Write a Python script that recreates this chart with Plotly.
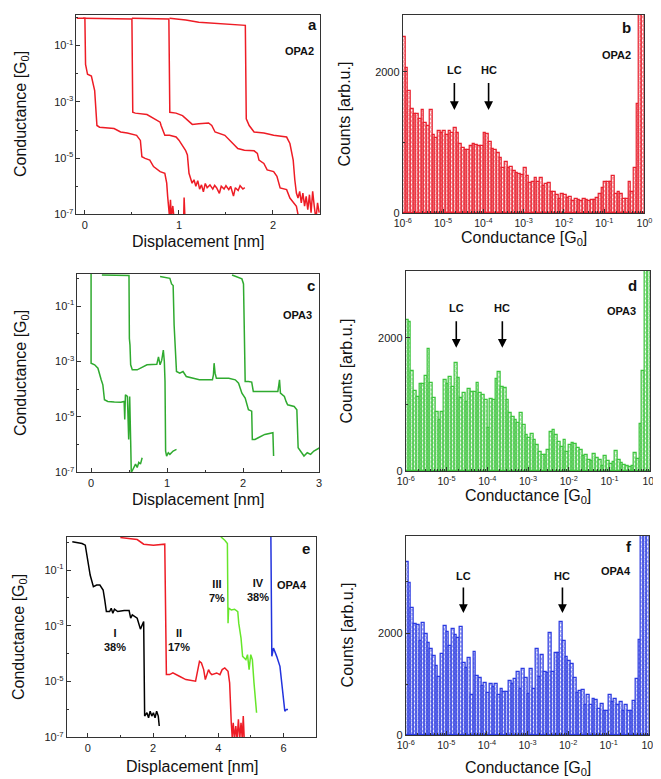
import math
import plotly.graph_objects as go

W, H = 661, 779
FONT = "Liberation Sans, Arial, sans-serif"

# ---------------- Panel a (OPA2 traces): displacement [nm], log10(G/G0) -------------
a1_x = [-0.09, 0.0, 0.007, 0.028, 0.069, 0.104, 0.128, 0.156, 0.31, 0.38, 0.45, 0.55, 0.59, 0.606,
        0.64, 0.69, 0.73, 0.8, 0.85, 0.87, 0.88, 0.89, 0.9, 0.91, 0.92, 0.935, 0.95, 1.05, 1.055, 1.065]
a1_lg = [-0.03, -0.03, -1.67, -2.02, -2.08, -2.6, -3.84, -3.9, -3.95, -4.07, -4.11, -4.19, -4.37, -4.95,
         -5.01, -5.07, -5.3, -5.48, -5.54, -5.89, -6.36, -6.7, -7.1, -6.48, -7.1, -6.7, -7.2, -7.2, -6.4, -7.2]
a2_x = [-0.02, 0.5, 0.509, 0.536, 0.66, 0.76, 0.8, 0.81, 0.83, 0.85, 0.9, 0.97, 1.0, 1.04, 1.07, 1.09,
        1.107, 1.14, 1.16, 1.18, 1.2, 1.22, 1.24, 1.26, 1.28, 1.3, 1.33, 1.36, 1.38, 1.4, 1.43, 1.45,
        1.48, 1.5, 1.53, 1.55, 1.58, 1.6, 1.63, 1.65, 1.68, 1.7]
a2_lg = [-0.03, -0.05, -3.37, -3.4, -3.45, -3.66, -3.72, -3.84, -4.01, -4.19, -4.19, -4.25, -4.36, -4.54,
         -4.72, -4.89, -5.54, -5.89, -5.77, -6.0, -5.8, -6.1, -5.95, -6.2, -5.9, -6.05, -5.95, -6.1,
         -5.97, -6.05, -6.25, -6.0, -6.1, -5.98, -6.12, -6.0, -6.35, -6.05, -6.15, -5.98, -6.1, -6.05]
a3_x = [0.5, 0.893, 0.903, 0.969, 1.038, 1.107, 1.142, 1.211, 1.315, 1.349, 1.384, 1.488, 1.557, 1.626,
        1.696, 1.799, 1.834, 1.851, 1.903, 1.938, 2.007, 2.042, 2.076, 2.145, 2.18, 2.215, 2.249, 2.266, 2.284]
a3_lg = [-0.03, -0.05, -3.37, -3.4, -3.49, -3.72, -3.8, -3.78, -3.75, -3.84, -4.07, -4.19, -4.42, -4.66,
         -4.72, -4.74, -4.83, -5.07, -5.19, -5.42, -5.48, -5.65, -6.06, -6.12, -6.42, -6.59, -6.71, -7.0, -7.3]
a4_x = [0.9, 1.073, 1.211, 1.349, 1.522, 1.706, 1.716, 1.747, 1.799, 1.903, 2.007, 2.145, 2.18, 2.215,
        2.232, 2.249, 2.266, 2.284, 2.301, 2.318, 2.336, 2.353, 2.37, 2.388, 2.405, 2.422, 2.439, 2.457,
        2.474, 2.491]
a4_lg = [-0.03, -0.09, -0.17, -0.2, -0.26, -0.28, -3.6, -3.84, -4.07, -4.11, -4.19, -4.25, -4.48, -5.07,
         -5.77, -6.24, -6.42, -6.18, -6.59, -6.24, -6.71, -6.36, -6.83, -6.3, -6.94, -6.18, -6.71, -7.18,
         -6.59, -6.94]

# ---------------- Panel c (OPA3 traces) ----------------
c1_x = [0.0, 0.0, 0.047, 0.09, 0.133, 0.155, 0.176, 0.22, 0.306, 0.392, 0.435, 0.443, 0.452, 0.478,
        0.495, 0.508, 0.521, 0.529, 0.542, 0.564, 0.585, 0.607, 0.628, 0.65, 0.672]
c1_lg = [0.22, -3.06, -3.12, -3.24, -3.66, -3.84, -4.38, -4.44, -4.46, -4.47, -4.44, -5.09, -4.2, -4.26,
         -5.81, -4.26, -5.87, -7.0, -6.94, -6.82, -6.7, -6.82, -6.64, -6.7, -6.47]
c2_x = [0.142, 0.499, 0.504, 0.512, 0.521, 0.542, 0.607, 0.736, 0.865, 0.887, 0.908, 0.93, 0.951, 0.964,
        0.973, 0.981, 0.994, 1.016, 1.037, 1.08, 1.124]
c2_lg = [0.12, 0.1, -2.17, -2.41, -3.12, -3.3, -3.3, -3.12, -3.1, -2.83, -3.12, -2.95, -2.59, -3.0,
         -3.72, -6.23, -6.41, -6.29, -6.35, -6.23, -6.17]
c3_x = [0.908, 1.037, 1.059, 1.08, 1.093, 1.106, 1.115, 1.124, 1.167, 1.21, 1.253, 1.339, 1.425, 1.597,
        1.61, 1.619, 1.632, 1.649, 1.812, 1.898, 1.941, 1.985, 2.028, 2.071, 2.114, 2.122, 2.157, 2.2,
        2.286, 2.393, 2.402]
c3_lg = [0.07, 0.0, -0.2, -0.26, -1.69, -2.53, -3.12, -3.36, -3.42, -3.36, -3.54, -3.6, -3.66, -3.66,
         -3.48, -3.06, -3.42, -3.6, -3.6, -3.66, -3.78, -4.14, -4.32, -4.74, -4.79, -5.81, -5.81, -5.75,
         -5.63, -5.57, -6.41]
c4_x = [1.855, 1.985, 2.006, 2.019, 2.028, 2.071, 2.114, 2.135, 2.286, 2.458, 2.471, 2.48, 2.492, 2.523,
        2.544, 2.566, 2.587, 2.673, 2.708, 2.725, 2.76, 2.802, 2.845, 2.889, 2.932, 2.975, 3.009]
c4_lg = [0.12, -0.02, -0.2, -1.93, -3.72, -3.72, -3.74, -4.08, -4.08, -4.08, -3.84, -3.66, -4.14, -4.2,
         -4.26, -4.44, -4.56, -4.62, -4.74, -6.11, -6.23, -6.41, -6.29, -6.35, -6.23, -6.17, -6.11]

# ---------------- Panel e (OPA4 traces, classes I-IV) ----------------
e1_x = [-0.478, -0.279, -0.179, -0.08, -0.03, 0.07, 0.169, 0.269, 0.368, 0.468, 0.517, 0.567, 0.667,
        0.716, 0.766, 0.816, 0.915, 1.114, 1.264, 1.313, 1.363, 1.512, 1.612, 1.692, 1.711, 1.741, 1.811,
        1.861, 1.91, 1.96, 2.01, 2.06, 2.109, 2.159, 2.189]
e1_lg = [0.012, -0.012, -0.048, -0.107, -0.524, -1.179, -1.595, -1.536, -1.536, -1.714, -2.071, -2.488,
         -2.488, -2.369, -2.548, -2.405, -2.488, -2.452, -2.452, -2.726, -2.607, -2.726, -3.119, -2.905,
         -2.845, -6.238, -6.119, -6.298, -6.06, -6.238, -6.119, -6.298, -6.06, -6.238, -6.595]
e2_x = [0.995, 1.313, 1.512, 1.711, 2.01, 2.358, 2.388, 2.408, 2.507, 2.607, 2.806, 3.005, 3.303, 3.353,
        3.423, 3.483, 3.552, 3.602, 3.701, 3.751, 3.801, 3.95, 4.05, 4.119, 4.199, 4.299, 4.348, 4.398,
        4.428, 4.458, 4.498, 4.537, 4.577, 4.617, 4.657, 4.697, 4.736, 4.766, 4.796]
e2_lg = [0.167, 0.131, 0.095, -0.071, -0.107, -0.071, -2.905, -4.75, -4.75, -4.69, -4.81, -4.929, -4.988,
         -4.631, -4.274, -4.333, -4.571, -4.929, -4.571, -4.69, -4.75, -4.69, -4.75, -4.571, -4.512,
         -4.631, -5.048, -6.476, -7.012, -6.476, -7.071, -6.595, -7.071, -6.357, -7.071, -6.476, -7.071,
         -6.238, -7.071]
e3_x = [4.08, 4.199, 4.279, 4.299, 4.318, 4.398, 4.498, 4.597, 4.627, 4.697, 4.746, 4.796, 4.846, 4.896,
        4.945, 4.995, 5.045, 5.095, 5.144, 5.174]
e3_lg = [0.19, 0.071, -0.048, -2.905, -2.369, -2.429, -2.405, -2.488, -2.905, -3.44, -4.095, -4.155,
         -4.214, -4.036, -4.571, -4.036, -4.214, -5.048, -5.583, -6.119]
e4_x = [5.612, 5.622, 5.642, 5.692, 5.741, 5.791, 5.891, 5.94, 5.99, 6.04, 6.09, 6.139]
e4_lg = [0.31, -1.714, -4.095, -3.798, -3.917, -4.095, -4.452, -4.929, -5.405, -6.06, -6.0, -6.0]

e_labels = ["I<br>38%", "II<br>17%", "III<br>7%", "IV<br>38%"]
e_label_x = [0.82, 2.78, 3.95, 5.21]
e_label_lg = [-3.5, -3.5, -1.75, -1.7]

# ---------------- Histograms: counts per bin, 15 bins/decade from 1e-6 to 1e0 ------------
hist_b = [2490, 2050, 1730, 1480, 1400, 1400, 1330, 1465, 1270, 1230, 1465, 1100, 1060, 1170, 1130,
          1165, 1110, 1165, 1130, 1210, 1140, 980, 920, 895, 900, 950, 980, 960, 945, 945,
          1130, 1120, 1010, 905, 900, 850, 780, 645, 720, 645, 660, 605, 570, 550, 540,
          640, 530, 430, 450, 495, 450, 500, 390, 415, 430, 300, 300, 265, 210, 275,
          255, 220, 230, 170, 205, 185, 170, 205, 185, 170, 195, 185, 220, 275, 360,
          450, 440, 450, 530, 270, 300, 270, 210, 200, 440, 300, 640, 1540, 3000, 3000]
hist_d = [2264, 2239, 1502, 1204, 1119, 1303, 1303, 1433, 1831, 1318, 1104, 886, 771, 886, 1368,
          1303, 1418, 1269, 1617, 1393, 1104, 1169, 1045, 1229, 1184, 1184, 1328, 1169, 1144, 1070,
          647, 1085, 1070, 1383, 1493, 1269, 1254, 1070, 871, 821, 771, 721, 871, 697,
          547, 497, 557, 473, 398, 298, 249, 249, 323, 597, 622, 547, 448, 373, 473, 298, 398, 423,
          408, 350, 323, 224, 249, 174, 149, 259, 200, 174, 75, 224, 149, 109, 139, 313, 174, 124,
          100, 75, 60, 80, 274, 184, 716, 1507, 3100, 3100]
hist_f = [3400, 2990, 2490, 2175, 2160, 1840, 2195, 1990, 1800, 1690, 1550, 1350, 1140, 1590, 2140,
          2030, 1740, 2080, 1970, 1900, 2130, 1420, 1320, 1510, 800, 1640, 1160, 1120, 960, 1030,
          830, 1000, 950, 1000, 800, 900, 840, 850, 1060, 1000, 1100, 1250, 900, 1300,
          1120, 810, 1300, 910, 1690, 1140, 1580, 1250, 1220, 2010, 1250, 1620, 1610, 2210, 1840,
          1530, 1450, 1400, 1120, 830, 860, 880, 600, 800, 600, 720, 700, 520, 620, 470,
          470, 800, 650, 720, 600, 660, 470, 600, 480, 470, 680, 1100, 1860, 4000, 4000, 4000]

hist_ticks = [-6, -5, -4, -3, -2, -1, 0]
hist_ticktext = ["10<sup>%d</sup>" % t for t in hist_ticks]
log_ticks = [1e-7, 1e-5, 1e-3, 1e-1]
log_ticktext = ["10<sup>-7</sup>", "10<sup>-5</sup>", "10<sup>-3</sup>", "10<sup>-1</sup>"]

# LC / HC arrow positions: log10(G), text y, arrow top, arrow bottom (counts)
arrows_b = {"LC": (-4.72, 2020, 1860, 1460), "HC": (-3.87, 2020, 1860, 1460)}
arrows_d = {"LC": (-4.76, 2440, 2270, 1850), "HC": (-3.63, 2440, 2270, 1850)}
arrows_f = {"LC": (-4.58, 3110, 2920, 2390), "HC": (-2.14, 3110, 2920, 2390)}

RED = "#ee1c25"
GREEN_C = "#2faa2f"
BLACK = "#000000"
GREEN_E = "#66e62a"
BLUE = "#2233dd"
HIST_RED = "#e8202e"
HIST_GREEN = "#3cc43c"
HIST_BLUE = "#2a3ae0"


def px_x(p):
    return p / W


def px_y(p):
    return 1 - p / H


# domains (pixels) for each panel: x0, x1, y0(top), y1(bottom)
dom = {
    "a": (61, 311, 7, 208),
    "b": (396, 644, 7, 207),
    "c": (62, 310, 268, 468),
    "d": (399, 650, 265, 467),
    "e": (51, 307, 533, 735),
    "f": (399, 649, 532, 733),
}
axis_ids = {"a": "", "b": "2", "c": "3", "d": "4", "e": "5", "f": "6"}

fig = go.Figure()


def add_line(panel, xs, lgs, color):
    i = axis_ids[panel]
    fig.add_trace(go.Scatter(x=xs, y=[10 ** v for v in lgs], mode="lines",
                             line=dict(color=color, width=1.5),
                             xaxis="x" + i, yaxis="y" + i, showlegend=False, hoverinfo="skip"))


add_line("a", a1_x, a1_lg, RED)
add_line("a", a2_x, a2_lg, RED)
add_line("a", a3_x, a3_lg, RED)
add_line("a", a4_x, a4_lg, RED)
add_line("c", c1_x, c1_lg, GREEN_C)
add_line("c", c2_x, c2_lg, GREEN_C)
add_line("c", c3_x, c3_lg, GREEN_C)
add_line("c", c4_x, c4_lg, GREEN_C)
add_line("e", e1_x, e1_lg, BLACK)
add_line("e", e2_x, e2_lg, RED)
add_line("e", e3_x, e3_lg, GREEN_E)
add_line("e", e4_x, e4_lg, BLUE)

nb = len(hist_b)
bin_w = 6.0 / nb
centers = [-6 + (k + 0.5) * bin_w for k in range(nb)]


def add_hist(panel, counts, color):
    i = axis_ids[panel]
    fig.add_trace(go.Bar(x=centers, y=counts, width=bin_w,
                         marker=dict(color=color, line=dict(color=color, width=1.2),
                                     pattern=dict(shape="x", fgcolor=color, bgcolor="white",
                                                  size=3, solidity=0.6)),
                         xaxis="x" + i, yaxis="y" + i, showlegend=False, hoverinfo="skip"))


add_hist("b", hist_b, HIST_RED)
add_hist("d", hist_d, HIST_GREEN)
add_hist("f", hist_f, HIST_BLUE)

AX = dict(showline=True, linecolor="#333", linewidth=1, mirror=True, ticks="inside", ticklen=4,
          tickcolor="#333", showgrid=False, zeroline=False,
          tickfont=dict(family=FONT, size=11, color="#222"))

layout = dict(width=W, height=H, margin=dict(l=0, r=0, t=0, b=0), paper_bgcolor="white",
              plot_bgcolor="white", bargap=0, barmode="overlay", font=dict(family=FONT))


def set_axes(panel, xcfg, ycfg):
    i = axis_ids[panel]
    x0, x1, yt, yb = dom[panel]
    xa = dict(AX, domain=[px_x(x0), px_x(x1)], anchor="y" + i, **xcfg)
    ya = dict(AX, domain=[px_y(yb), px_y(yt)], anchor="x" + i, **ycfg)
    layout["xaxis" + i] = xa
    layout["yaxis" + i] = ya


def log_y(top):
    return dict(type="log", range=[-7, top], tickvals=log_ticks, ticktext=log_ticktext,
                minor=dict(tickvals=[1e-6, 1e-4, 1e-2, 1], ticks="inside", ticklen=2, tickcolor="#333"))


def lin_x(rng, ticks, minors):
    return dict(range=rng, tickvals=ticks, ticktext=[str(t) for t in ticks],
                minor=dict(tickvals=minors, ticks="inside", ticklen=2, tickcolor="#333"))


hist_minor = [d + math.log10(k) for d in range(-6, 0) for k in range(2, 10)]


def hist_x():
    return dict(range=[-6, 0], tickvals=hist_ticks, ticktext=hist_ticktext,
                tickfont=dict(family=FONT, size=10.5, color="#222"),
                minor=dict(tickvals=hist_minor, ticks="inside", ticklen=2, tickcolor="#333"))


def hist_y(top):
    return dict(range=[0, top], tickvals=[0, 2000], ticktext=["0", "2000"],
                minor=dict(tickvals=[1000, 3000], ticks="inside", ticklen=2, tickcolor="#333"))


set_axes("a", lin_x([-0.09, 2.5], [0, 1, 2], [0.5, 1.5]), log_y(0.09))
set_axes("c", lin_x([-0.18, 3.0], [0, 1, 2, 3], [0.5, 1.5, 2.5]), log_y(0.16))
set_axes("e", lin_x([-0.65, 7.0], [0, 2, 4, 6], [1, 3, 5]), log_y(0.19))
set_axes("b", hist_x(), hist_y(2800))
set_axes("d", hist_x(), hist_y(3000))
set_axes("f", hist_x(), hist_y(3900))

ann = []


def text_px(x, y, s, size, bold=False, angle=0):
    ann.append(dict(x=px_x(x), y=px_y(y), xref="paper", yref="paper", text=("<b>%s</b>" % s) if bold else s,
                    showarrow=False, textangle=angle, xanchor="center", yanchor="middle",
                    font=dict(family=FONT, size=size, color="#111")))


CT = "Conductance [G<sub>0</sub>]"
# axis titles: (y-title x, y-title y, x-title x, x-title y) in pixels
for (yx, yy, xx, xy), ytxt, xtxt in [
    ((4, 107, 186, 235), CT, "Displacement [nm]"),
    ((336, 107, 520, 232), "Counts [arb.u.]", CT),
    ((4, 368, 186, 495), CT, "Displacement [nm]"),
    ((338, 366, 524, 492), "Counts [arb.u.]", CT),
    ((2, 634, 180, 764), CT, "Displacement [nm]"),
    ((339, 632, 524, 766), "Counts [arb.u.]", CT),
]:
    text_px(yx, yy, ytxt, 16, angle=-90)
    text_px(xx, xy, xtxt, 16)

# panel letters and molecule labels
for lab, (lx, ly), (ox, oy), name in [
    ("a", (303, 17), (290, 43), "OPA2"),
    ("b", (626, 20), (615, 47), "OPA2"),
    ("c", (302, 280), (288, 309), "OPA3"),
    ("d", (632, 280), (620, 305), "OPA3"),
    ("e", (297, 545), (282, 581), "OPA4"),
    ("f", (628, 543), (615, 567), "OPA4"),
]:
    text_px(lx, ly, lab, 15, bold=True)
    text_px(ox, oy, name, 11, bold=True)

# class labels in panel e
for s, x, lg in zip(e_labels, e_label_x, e_label_lg):
    ann.append(dict(x=x, y=lg, xref="x5", yref="y5", text="<b>%s</b>" % s, showarrow=False,
                    font=dict(family=FONT, size=11, color="#111"), xanchor="center", yanchor="middle"))

# LC / HC arrows
for panel, arr in [("b", arrows_b), ("d", arrows_d), ("f", arrows_f)]:
    i = axis_ids[panel]
    for name, (xv, ty, atop, abot) in arr.items():
        ann.append(dict(x=xv, y=ty, xref="x" + i, yref="y" + i, text="<b>%s</b>" % name, showarrow=False,
                        font=dict(family=FONT, size=11, color="#111"), xanchor="center", yanchor="middle"))
        ann.append(dict(x=xv, y=abot, xref="x" + i, yref="y" + i, ax=xv, ay=atop,
                        axref="x" + i, ayref="y" + i, text="", showarrow=True, arrowhead=2,
                        arrowsize=1.1, arrowwidth=1.6, arrowcolor="#000"))

layout["annotations"] = ann
fig.update_layout(**layout)
fig.write_html("out.html")
